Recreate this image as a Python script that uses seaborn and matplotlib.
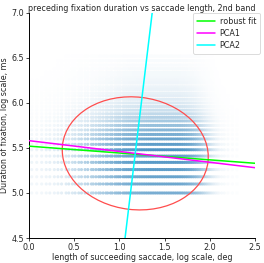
import numpy as np
import pandas as pd
import matplotlib
matplotlib.use("Agg")
import matplotlib.pyplot as plt
from matplotlib.patches import Ellipse
from matplotlib.colors import LinearSegmentedColormap
import seaborn as sns

# ---- data ----
y_levels = [5.00, 5.10, 5.18, 5.26, 5.34, 5.41, 5.48, 5.54, 5.60, 5.65, 5.70, 5.75,
            5.80, 5.84, 5.88, 5.92, 5.96, 6.00, 6.04, 6.08, 6.11, 6.15, 6.18, 6.22,
            6.25, 6.28, 6.31, 6.34, 6.38, 6.42, 6.47, 6.52]
row_weight = [0.55, 0.62, 0.66, 0.75, 0.80, 0.72, 0.90, 0.75, 0.65, 0.55, 0.46, 0.38,
              0.31, 0.25, 0.20, 0.16, 0.13, 0.11, 0.09, 0.08, 0.07, 0.06, 0.05, 0.045,
              0.04, 0.035, 0.03, 0.03, 0.025, 0.02, 0.02, 0.015]

x_levels = [0.03, 0.085, 0.14, 0.19, 0.23, 0.28, 0.32, 0.36, 0.41, 0.44, 0.48, 0.51,
            0.55, 0.58, 0.62, 0.65, 0.69, 0.71, 0.74, 0.77, 0.79, 0.82, 0.85, 0.87,
            0.90, 0.92, 0.95, 0.97, 0.99, 1.01, 1.04, 1.06, 1.08, 1.10, 1.12, 1.14,
            1.16, 1.18, 1.20, 1.22, 1.24, 1.26, 1.28, 1.30, 1.32, 1.34, 1.36, 1.38,
            1.40, 1.42, 1.44, 1.46, 1.48, 1.50, 1.52, 1.54, 1.56, 1.58, 1.60, 1.62,
            1.64, 1.66, 1.68, 1.70, 1.72, 1.74, 1.76, 1.78, 1.80, 1.82, 1.84, 1.86,
            1.88, 1.90, 1.92, 1.94, 1.96, 1.98, 2.00, 2.02, 2.04, 2.06, 2.08, 2.10,
            2.13, 2.16, 2.20, 2.25, 2.30]
col_weight = [0.06, 0.06, 0.07, 0.08, 0.09, 0.10, 0.12, 0.14, 0.16, 0.18, 0.20, 0.23,
              0.26, 0.29, 0.32, 0.35, 0.38, 0.41, 0.44, 0.47, 0.50, 0.53, 0.56, 0.59,
              0.62, 0.65, 0.68, 0.71, 0.74, 0.77, 0.80, 0.82, 0.84, 0.86, 0.88, 0.89,
              0.90, 0.91, 0.92, 0.93, 0.94, 0.95, 0.96, 0.97, 0.98, 1.00, 1.00, 1.00,
              1.00, 1.00, 1.00, 1.00, 1.00, 1.00, 1.00, 1.00, 1.00, 1.00, 1.00, 1.00,
              1.00, 0.98, 0.96, 0.94, 0.91, 0.88, 0.84, 0.80, 0.75, 0.70, 0.64, 0.58,
              0.52, 0.46, 0.40, 0.34, 0.29, 0.24, 0.20, 0.16, 0.13, 0.10, 0.08, 0.06,
              0.05, 0.04, 0.03, 0.02, 0.015]

center_x = 1.175
center_y = 5.44
pca1_slope = -0.12
robust_intercept = 5.52
robust_slope = -0.076
ellipse_width = 1.62
ellipse_height = 1.25

title = "preceding fixation duration vs saccade length, 2nd band"
xlabel = "length of succeeding saccade, log scale, deg"
ylabel = "Duration of fixation, log scale, ms"
x_ticks = [0.0, 0.5, 1.0, 1.5, 2.0, 2.5]
y_ticks = [4.5, 5.0, 5.5, 6.0, 6.5, 7.0]

# ---- build table ----
rows = []
for yv, rw in zip(y_levels, row_weight):
    for xv, cw in zip(x_levels, col_weight):
        rows.append((xv, yv, rw * cw))
df = pd.DataFrame(rows, columns=["x", "y", "dens"])
k = 1.6
df["intensity"] = 0.82 * (1 - np.exp(-k * df["dens"])) / (1 - np.exp(-k))
df = df.sort_values("intensity")

sns.set_style("ticks")
plt.rcParams["font.family"] = ["DejaVu Sans"]
fs = 5.8

fig = plt.figure(figsize=(2.64, 2.63), dpi=100)
ax = fig.add_axes([0.11, 0.095, 0.856, 0.856])

cmap = LinearSegmentedColormap.from_list("wb", ["#ffffff", "#1f77b4"])
sns.scatterplot(data=df, x="x", y="y", hue="intensity", palette=cmap,
                hue_norm=(0, 1), s=5, linewidth=0, legend=False, ax=ax, zorder=1)

ell = Ellipse((center_x, center_y), ellipse_width, ellipse_height,
              angle=np.degrees(np.arctan(pca1_slope)), fill=False,
              edgecolor="#ff4d4d", lw=0.9, zorder=3)
ax.add_patch(ell)

xr = np.array([0.0, 2.5])
sns.lineplot(x=xr, y=robust_intercept + robust_slope * xr, color="#00ff00",
             lw=1.1, label="robust fit", ax=ax, estimator=None, sort=False, zorder=4)
sns.lineplot(x=xr, y=center_y + pca1_slope * (xr - center_x), color="#ff00ff",
             lw=1.1, label="PCA1", ax=ax, estimator=None, sort=False, zorder=4)
yr = np.array([4.5, 7.0])
sns.lineplot(x=center_x - pca1_slope * (yr - center_y), y=yr, color="#00ffff",
             lw=1.1, label="PCA2", ax=ax, estimator=None, sort=False, zorder=4,
             orient="y")

ax.set_xlim(0, 2.5)
ax.set_ylim(4.5, 7.0)
ax.set_xticks(x_ticks)
ax.set_yticks(y_ticks)
ax.set_xticklabels([f"{t:.1f}" for t in x_ticks], fontsize=fs)
ax.set_yticklabels([f"{t:.1f}" for t in y_ticks], fontsize=fs)
ax.tick_params(length=2.5, width=0.6, pad=1.0)
ax.set_xlabel(xlabel, fontsize=fs, labelpad=1.0)
ax.set_ylabel(ylabel, fontsize=fs, labelpad=1.5)
ax.set_title(title, fontsize=fs, pad=1.5)
sns.despine(ax=ax)
for sp in ["left", "bottom"]:
    ax.spines[sp].set_linewidth(0.7)
    ax.spines[sp].set_color("black")

leg = ax.legend(loc="upper right", bbox_to_anchor=(1.02, 1.0), fontsize=fs,
                frameon=True, handlelength=2.2, borderaxespad=0.0,
                labelspacing=0.4, borderpad=0.45, handletextpad=0.6)
leg.get_frame().set_linewidth(0.6)

fig.savefig("out.png", dpi=100)
